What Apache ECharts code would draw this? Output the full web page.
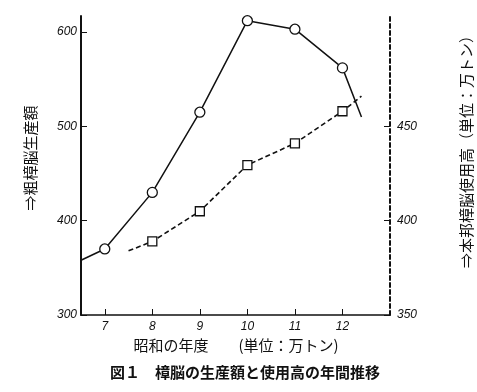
<!DOCTYPE html>
<html>
<head>
<meta charset="utf-8">
<script src="https://cdn.jsdelivr.net/npm/echarts@6/dist/echarts.min.js"></script>
<style>html,body{margin:0;padding:0;background:#fff}#c{width:477px;height:392px}</style>
</head>
<body>
<div id="c"></div>
<script>
// x: 昭和の年度, left y: 粗樟脳生産額, right y: 本邦樟脳使用高
const years = [7, 8, 9, 10, 11, 12];
const yearLabels = ['7', '8', '9', '10', '11', '12'];
const production = [370, 430, 515, 612, 603, 562];
const productionStart = [6.5, 358];
const productionEnd = [12.4, 510];
const usageYears = [8, 9, 10, 11, 12];
const usage = [389, 405, 429.5, 441, 458];
const usageStart = [7.5, 384];
const usageEnd = [12.4, 466];
const leftTicks = [300, 400, 500, 600];
const rightTicks = [350, 400, 450];

const FONT_CJK = '"Noto Sans CJK JP", "Noto Sans", sans-serif';
const tickFont = { fontFamily: 'Liberation Sans', fontStyle: 'italic', fontSize: 12, color: '#111' };

const prodData = [{ value: productionStart, symbol: 'none' }]
  .concat(years.map((y, i) => [y, production[i]]))
  .concat([{ value: productionEnd, symbol: 'none' }]);
const usageData = [{ value: usageStart, symbol: 'none' }]
  .concat(usageYears.map((y, i) => [y, usage[i]]))
  .concat([{ value: usageEnd, symbol: 'none' }]);

const chart = echarts.init(document.getElementById('c'));
chart.setOption({
  animation: false,
  backgroundColor: '#fff',
  grid: { left: 81, right: 87, top: 16, bottom: 77 },
  xAxis: {
    type: 'value', min: 6.5, max: 13,
    axisLine: { lineStyle: { color: '#111', width: 1.5 } },
    axisTick: { inside: true, length: 6, customValues: years, lineStyle: { color: '#111' } },
    axisLabel: Object.assign({ customValues: years, margin: 6, formatter: v => yearLabels[years.indexOf(v)] }, tickFont),
    splitLine: { show: false }
  },
  yAxis: [
    {
      type: 'value', min: 300, max: 617, position: 'left',
      axisLine: { show: true, lineStyle: { color: '#111', width: 2 } },
      axisTick: { show: true, inside: true, length: 6, customValues: leftTicks, lineStyle: { color: '#111' } },
      axisLabel: Object.assign({ customValues: leftTicks, margin: 4 }, tickFont),
      splitLine: { show: false }
    },
    {
      type: 'value', min: 350, max: 508.5, position: 'right',
      axisLine: { show: true, lineStyle: { color: '#111', width: 2, type: [4, 3] } },
      axisTick: { show: true, inside: true, length: 6, customValues: rightTicks, lineStyle: { color: '#111' } },
      axisLabel: Object.assign({ customValues: rightTicks, margin: 7 }, tickFont),
      splitLine: { show: false }
    }
  ],
  series: [
    {
      type: 'line', yAxisIndex: 0, data: prodData,
      symbol: 'circle', symbolSize: 10,
      itemStyle: { color: '#fff', borderColor: '#111', borderWidth: 1.3 },
      lineStyle: { color: '#111', width: 1.5 },
      z: 3
    },
    {
      type: 'line', yAxisIndex: 1, data: usageData,
      symbol: 'rect', symbolSize: 9,
      itemStyle: { color: '#fff', borderColor: '#111', borderWidth: 1.3 },
      lineStyle: { color: '#111', width: 1.6, type: [5, 3] },
      z: 3
    }
  ],
  graphic: [
    { type: 'text', x: 30, y: 158, rotation: Math.PI / 2,
      style: { text: '⇒粗樟脳生産額', font: '15px ' + FONT_CJK, fill: '#111', align: 'center', verticalAlign: 'middle' } },
    { type: 'text', x: 466, y: 148, rotation: Math.PI / 2,
      style: { text: '⇒本邦樟脳使用高（単位：万トン）', font: '15px ' + FONT_CJK, fill: '#111', align: 'center', verticalAlign: 'middle' } },
    { type: 'text', x: 236, y: 345,
      style: { text: '昭和の年度　　(単位：万トン)', font: '15px ' + FONT_CJK, fill: '#111', align: 'center', verticalAlign: 'middle' } },
    { type: 'text', x: 245, y: 372,
      style: { text: '図１　樟脳の生産額と使用高の年間推移', font: 'bold 15px ' + FONT_CJK, fill: '#111', align: 'center', verticalAlign: 'middle' } }
  ]
});
</script>
</body>
</html>
